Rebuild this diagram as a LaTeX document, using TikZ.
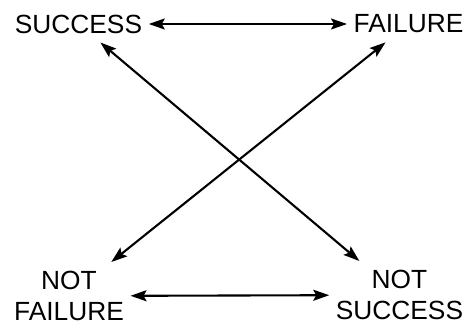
\documentclass[tikz,border=0pt]{standalone}
\usepackage{fontspec}
\setmainfont{Liberation Sans}
\usepackage{tikz}
\usetikzlibrary{arrows.meta}

\begin{document}
\begin{tikzpicture}[x=1pt, y=-1pt, font=\fontsize{26.3}{31}\selectfont,
		word/.style={align=center, inner xsep=6.5pt, inner ysep=9pt},
		link/.style={line width=2.1pt, {Stealth[length=16pt,width=11pt,inset=3pt]}-{Stealth[length=16pt,width=11pt,inset=3pt]}}]
			\useasboundingbox (0,0) rectangle (467,326);
			\coordinate (S) at (78.5,24);
			\coordinate (F) at (408.5,24);
			\coordinate (NF) at (69,296);
			\coordinate (NS) at (399.5,295);
			
			\node[word] (succ) at (S) {SUCCESS};
			\node[word] (fail) at (F) {FAILURE};
			\node[word] (notfail) at (NF) {NOT\\FAILURE};
			\node[word] (notsucc) at (NS) {NOT\\SUCCESS};
			
			\draw[link] (succ) -- (fail);
			\draw[link] (notfail) -- (notsucc);
			\draw[link] (succ) -- (notsucc);
			\draw[link] (fail) -- (notfail);
		\end{tikzpicture}
\end{document}
